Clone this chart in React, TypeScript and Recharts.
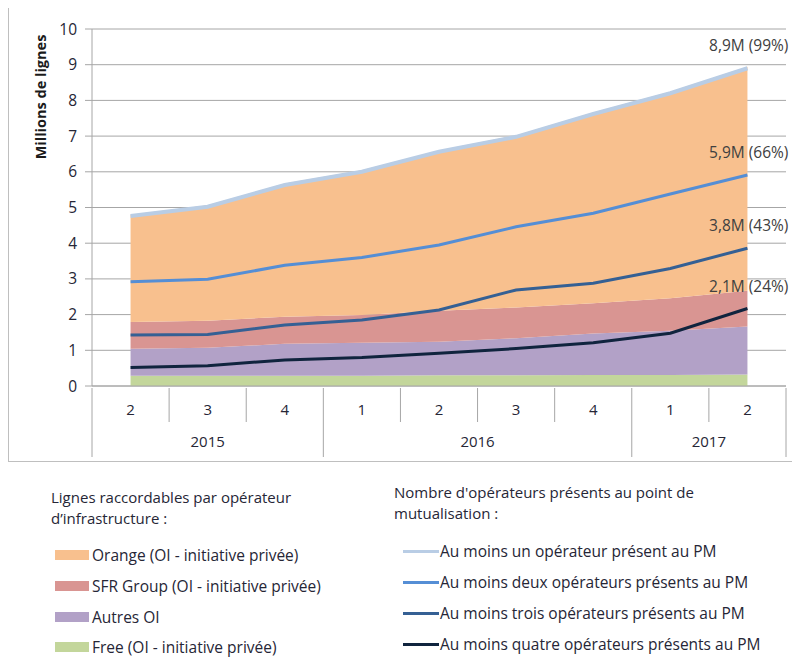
import { ComposedChart, Area, Line, XAxis, YAxis, CartesianGrid, LabelList } from 'recharts'

const quarters = ['2', '3', '4', '1', '2', '3', '4', '1', '2']
const years = ['2015', '2015', '2015', '2016', '2016', '2016', '2016', '2017', '2017']

// stacked areas (millions de lignes)
const free = [0.29, 0.29, 0.29, 0.29, 0.3, 0.3, 0.31, 0.31, 0.32]
const autresOI = [0.75, 0.78, 0.89, 0.92, 0.94, 1.04, 1.16, 1.24, 1.35]
const sfr = [0.75, 0.76, 0.76, 0.78, 0.87, 0.86, 0.85, 0.91, 1.0]
const orange = [3.01, 3.23, 3.73, 4.05, 4.49, 4.82, 5.34, 5.78, 6.27]

// lines: nombre d'opérateurs présents au PM
const unOp = [4.76, 5.02, 5.63, 6.0, 6.56, 6.98, 7.62, 8.2, 8.9]
const deuxOp = [2.92, 2.99, 3.38, 3.6, 3.95, 4.46, 4.84, 5.38, 5.91]
const troisOp = [1.43, 1.44, 1.71, 1.85, 2.13, 2.69, 2.88, 3.29, 3.86]
const quatreOp = [0.52, 0.57, 0.73, 0.8, 0.92, 1.05, 1.21, 1.48, 2.17]

const endLabels = ['8,9M (99%)', '5,9M (66%)', '3,8M (43%)', '2,1M (24%)']
const yTicks = [0, 1, 2, 3, 4, 5, 6, 7, 8, 9, 10]

const data = quarters.map((q, i) => ({
  q,
  free: free[i],
  autres: autresOI[i],
  sfr: sfr[i],
  orange: orange[i],
  un: unOp[i],
  deux: deuxOp[i],
  trois: troisOp[i],
  quatre: quatreOp[i]
}))

const FONT = '"Open Sans", Lato, sans-serif'
const TXT = '#262636'
const AXIS = '#a6a6a6'
const W = 792
const LEFT = 92
const RIGHT = 6
const BAND = (W - LEFT - RIGHT) / quarters.length

const areaSeries = [
  { key: 'free', name: 'Free (OI - initiative privée)', color: '#c3d69b' },
  { key: 'autres', name: 'Autres OI', color: '#b2a1c7' },
  { key: 'sfr', name: 'SFR Group (OI - initiative privée)', color: '#d99592' },
  { key: 'orange', name: 'Orange (OI - initiative privée)', color: '#f8c08e' }
]

const lineSeries = [
  { key: 'un', name: 'Au moins un opérateur présent au PM', color: '#b9cde5', width: 4 },
  { key: 'deux', name: 'Au moins deux opérateurs présents au PM', color: '#558ed5', width: 3 },
  { key: 'trois', name: 'Au moins trois opérateurs présents au PM', color: '#356094', width: 3 },
  { key: 'quatre', name: 'Au moins quatre opérateurs présents au PM', color: '#10243e', width: 3 }
]

const QuarterTick = (props: any) => {
  const { x, y, payload } = props
  const i = payload.index
  const newYear = i === 0 || years[i] !== years[i - 1]
  const last = i === quarters.length - 1
  let count = 0
  if (newYear) {
    while (i + count < years.length && years[i + count] === years[i]) count++
  }
  return (
    <g>
      <text x={x} y={y + 23} textAnchor="middle" dominantBaseline="middle" fontSize={15} fill={TXT} fontFamily={FONT}>
        {payload.value}
      </text>
      <line x1={x - BAND / 2} x2={x - BAND / 2} y1={y} y2={y + (newYear ? 69 : 34)} stroke={AXIS} />
      {last && <line x1={x + BAND / 2} x2={x + BAND / 2} y1={y} y2={y + 69} stroke={AXIS} />}
      {newYear && (
        <text x={x + ((count - 1) / 2) * BAND} y={y + 55} textAnchor="middle" dominantBaseline="middle" fontSize={15} fill={TXT} fontFamily={FONT}>
          {years[i]}
        </text>
      )}
    </g>
  )
}

const endLabel = (label: string) => (props: any) => {
  const { x, y, index } = props
  if (index !== quarters.length - 1) return null
  return (
    <text x={x + 41} y={y - 21} textAnchor="end" dominantBaseline="middle" fontSize={15.5} fill="#404040" fontFamily={FONT}>
      {label}
    </text>
  )
}

const areaRows = [555, 586, 617, 647]
const lineRows = [551, 582, 613, 644]

export default function App() {
  return (
    <div style={{ position: 'relative', width: W, height: 659, background: '#fff', fontFamily: FONT, color: TXT, overflow: 'hidden' }}>
      <style>{'body{margin:0}'}</style>
      <div style={{ position: 'absolute', left: 8, top: 8, width: 0, height: 453, borderLeft: '1px solid #bfbfbf' }} />
      <div style={{ position: 'absolute', left: 8, top: 461, width: W - 8, height: 0, borderTop: '1px solid #bfbfbf' }} />
      <div style={{ position: 'absolute', left: 0, top: 0 }}>
        <ComposedChart width={W} height={470} data={data} margin={{ top: 29, right: RIGHT, bottom: 14, left: 0 }}>
          <CartesianGrid vertical={false} stroke={AXIS} />
          <XAxis
            dataKey="q"
            interval={0}
            height={70}
            padding={{ left: BAND / 2, right: BAND / 2 }}
            tickSize={0}
            tickLine={false}
            axisLine={{ stroke: AXIS }}
            tick={<QuarterTick />}
          />
          <YAxis
            width={LEFT}
            domain={[0, 10]}
            ticks={yTicks}
            interval={0}
            tickSize={7}
            tickMargin={8}
            tickLine={{ stroke: AXIS }}
            axisLine={{ stroke: AXIS }}
            tick={{ fontSize: 15.5, fill: TXT, fontFamily: FONT }}
            label={{
              content: (p: any) => {
                const vb = p.viewBox || { x: 0, y: 29 }
                const cx = vb.x + 42
                const cy = vb.y + 68
                return (
                  <text x={cx} y={cy} transform={`rotate(-90 ${cx} ${cy})`} textAnchor="middle" dominantBaseline="middle" fontSize={14.5} fontWeight={700} fill="#1a1a1a" fontFamily={FONT}>
                    Millions de lignes
                  </text>
                )
              }
            }}
          />
          {areaSeries.map((s) => (
            <Area
              key={s.key}
              dataKey={s.key}
              name={s.name}
              stackId="oi"
              type="linear"
              fill={s.color}
              fillOpacity={1}
              stroke="none"
              isAnimationActive={false}
              activeDot={false}
            />
          ))}
          {lineSeries.map((s, i) => (
            <Line
              key={s.key}
              dataKey={s.key}
              name={s.name}
              type="linear"
              stroke={s.color}
              strokeWidth={s.width}
              dot={false}
              activeDot={false}
              isAnimationActive={false}
            >
              <LabelList dataKey={s.key} content={endLabel(endLabels[i])} />
            </Line>
          ))}
        </ComposedChart>
      </div>

      {/* legend: areas */}
      <div style={{ position: 'absolute', left: 51, top: 487, fontSize: 15, lineHeight: '21px' }}>
        Lignes raccordables par opérateur
        <br />
        d’infrastructure :
      </div>
      {[...areaSeries].reverse().map((s, i) => (
        <div key={s.key} style={{ position: 'absolute', left: 55, top: areaRows[i] - 7, height: 14, display: 'flex', alignItems: 'center', fontSize: 15.5, whiteSpace: 'nowrap' }}>
          <span style={{ display: 'inline-block', width: 34, height: 10, background: s.color, marginRight: 3 }} />
          {s.name}
        </div>
      ))}

      {/* legend: lines */}
      <div style={{ position: 'absolute', left: 394, top: 482, fontSize: 15, lineHeight: '21px' }}>
        Nombre d'opérateurs présents au point de
        <br />
        mutualisation :
      </div>
      {lineSeries.map((s, i) => (
        <div key={s.key} style={{ position: 'absolute', left: 403, top: lineRows[i] - 7, height: 14, display: 'flex', alignItems: 'center', fontSize: 15.5, whiteSpace: 'nowrap' }}>
          <span style={{ display: 'inline-block', width: 36, height: 3, background: s.color, marginRight: 1 }} />
          {s.name}
        </div>
      ))}
    </div>
  )
}
